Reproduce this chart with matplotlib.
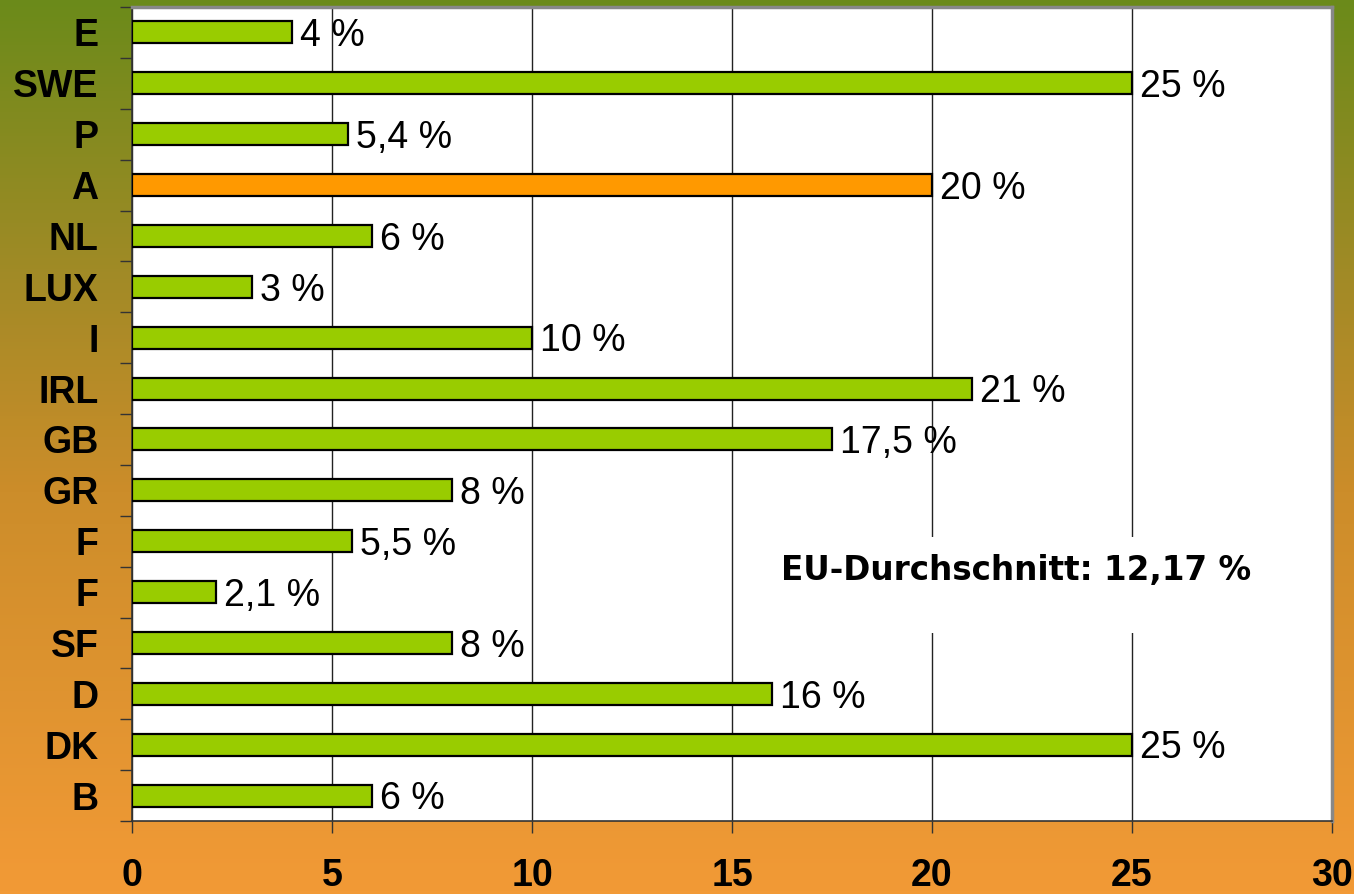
import numpy as np
import matplotlib
matplotlib.use('Agg')
import matplotlib.pyplot as plt
from matplotlib.colors import LinearSegmentedColormap
from matplotlib.patches import Rectangle

# Daten (von unten nach oben)
countries = ['B', 'DK', 'D', 'SF', 'F', 'F', 'GR', 'GB', 'IRL', 'I', 'LUX', 'NL', 'A', 'P', 'SWE', 'E']
values = [6, 25, 16, 8, 2.1, 5.5, 8, 17.5, 21, 10, 3, 6, 20, 5.4, 25, 4]
value_labels = ['6 %', '25 %', '16 %', '8 %', '2,1 %', '5,5 %', '8 %', '17,5 %', '21 %', '10 %',
                '3 %', '6 %', '20 %', '5,4 %', '25 %', '4 %']
highlight = 'A'
x_ticks = [0, 5, 10, 15, 20, 25, 30]
avg_text = 'EU-Durchschnitt: 12,17 %'

plt.rcParams['font.family'] = ['Liberation Sans', 'DejaVu Sans']

fig = plt.figure(figsize=(13.54, 8.94), dpi=100)

# Hintergrund mit Farbverlauf (grün oben, orange unten)
bg = fig.add_axes([0, 0, 1, 1], zorder=0)
cmap = LinearSegmentedColormap.from_list('bg', [
    (0.0, '#6b8a1a'),
    (0.3, '#a08a26'),
    (0.55, '#cc8d2a'),
    (1.0, '#f29a36'),
])
grad = np.linspace(0, 1, 256).reshape(-1, 1)
bg.imshow(grad, aspect='auto', cmap=cmap, extent=[0, 1, 0, 1], origin='upper')
bg.axis('off')

ax = fig.add_axes([132 / 1354, 1 - 821 / 894, 1200 / 1354, 814 / 894], zorder=1)
ax.set_facecolor('white')

y = np.arange(len(countries))
colors = ['#ff9900' if c == highlight else '#99cc00' for c in countries]
ax.barh(y, values, height=0.43, color=colors, edgecolor='black', linewidth=1.6, zorder=3)

for yi, v, lab in zip(y, values, value_labels):
    ax.text(v + 0.2, yi - 0.27, lab, va='baseline', ha='left', fontsize=27, color='black', zorder=4)

ax.set_xlim(0, 30)
ax.set_ylim(-0.5, len(countries) - 0.5)
ax.set_xticks(x_ticks)
ax.set_xticklabels([str(t) for t in x_ticks], fontsize=27, fontweight='bold')
ax.set_yticks(y)
ax.set_yticklabels(countries, fontsize=27, fontweight='bold')
ax.set_yticks(np.arange(len(countries) + 1) - 0.5, minor=True)
ax.tick_params(axis='y', which='major', length=0, pad=24)
ax.tick_params(axis='y', which='minor', length=8.6, width=1, color='#333333')
ax.tick_params(axis='x', length=8.6, width=1, color='#333333', pad=18)

ax.grid(axis='x', color='#222222', linewidth=1, zorder=1)
ax.set_axisbelow(True)
for side in ['left', 'bottom']:
    ax.spines[side].set_color('#333333')
    ax.spines[side].set_linewidth(1.2)
for side in ['top', 'right']:
    ax.spines[side].set_color('#888888')
    ax.spines[side].set_linewidth(2.5)

# weißes Feld hinter dem Durchschnittstext
ax.add_patch(Rectangle((16.0, 3.2), 13.9, 1.88, facecolor='white', edgecolor='none', zorder=2))
ax.text(16.22, 4.24, avg_text, ha='left', va='baseline', fontsize=23.5, fontweight='bold',
        family=['DejaVu Sans'], zorder=5)

fig.savefig('out.png', dpi=100)
